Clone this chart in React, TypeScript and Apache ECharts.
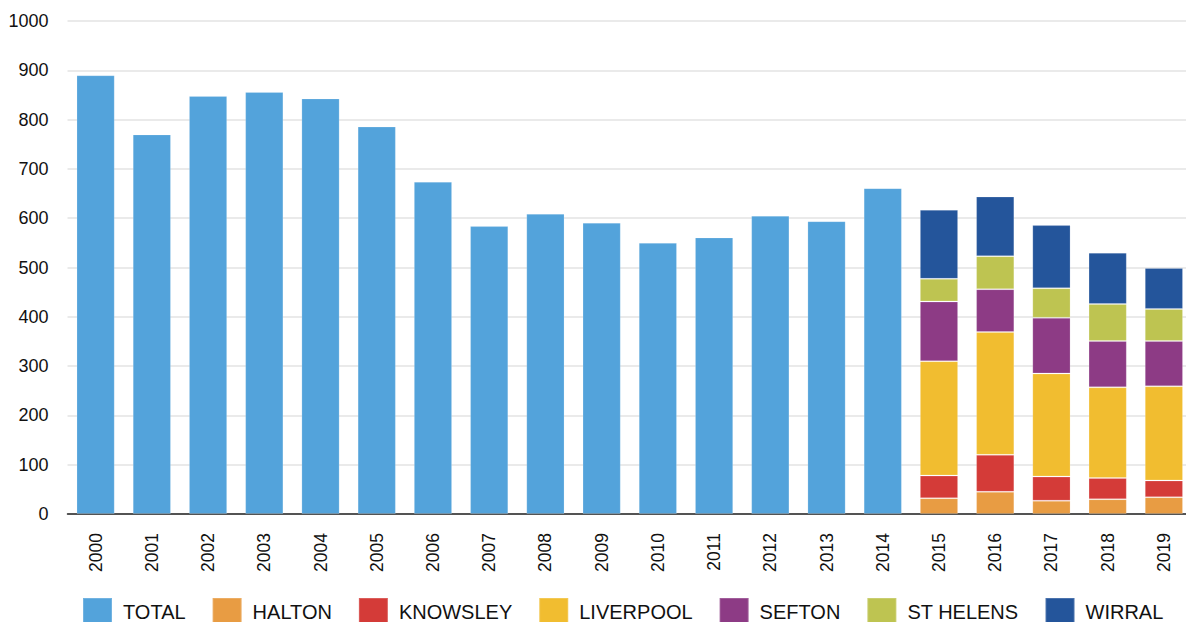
import React, { useEffect, useRef } from "react";
import * as echarts from "echarts";

const years = [
  "2000", "2001", "2002", "2003", "2004", "2005", "2006", "2007", "2008", "2009",
  "2010", "2011", "2012", "2013", "2014", "2015", "2016", "2017", "2018", "2019",
];

const total = [890, 770, 848, 856, 843, 786, 674, 584, 609, 591, 550, 561, 605, 594, 661, null, null, null, null, null];
const halton = [null, null, null, null, null, null, null, null, null, null, null, null, null, null, null, 32, 45, 27, 30, 34];
const knowsley = [null, null, null, null, null, null, null, null, null, null, null, null, null, null, null, 46, 75, 49, 43, 34];
const liverpool = [null, null, null, null, null, null, null, null, null, null, null, null, null, null, null, 232, 249, 209, 184, 191];
const sefton = [null, null, null, null, null, null, null, null, null, null, null, null, null, null, null, 121, 87, 113, 94, 92];
const stHelens = [null, null, null, null, null, null, null, null, null, null, null, null, null, null, null, 46, 67, 60, 75, 65];
const wirral = [null, null, null, null, null, null, null, null, null, null, null, null, null, null, null, 140, 121, 128, 104, 83];

const seriesNames = ["TOTAL", "HALTON", "KNOWSLEY", "LIVERPOOL", "SEFTON", "ST HELENS", "WIRRAL"];
const seriesData = [total, halton, knowsley, liverpool, sefton, stHelens, wirral];
const colors = ["#53a3db", "#e89c43", "#d43b38", "#f1bd30", "#8d3b85", "#bec451", "#24559b"];

const FONT = "'Liberation Sans', Arial, Helvetica, sans-serif";

export default function App() {
  const ref = useRef<HTMLDivElement>(null);

  useEffect(() => {
    if (!ref.current) return;
    const chart = echarts.init(ref.current, undefined, { renderer: "svg" });
    chart.setOption({
      animation: false,
      color: colors,
      textStyle: { fontFamily: FONT },
      grid: { left: 67.5, right: 0, top: 21, bottom: 108, containLabel: false },
      legend: {
        left: 82,
        top: 597,
        padding: 0,
        itemGap: 26,
        itemWidth: 29,
        itemHeight: 27,
        icon: "rect",
        data: seriesNames,
        textStyle: { fontSize: 20, color: "#111", fontFamily: FONT, padding: [0, 0, 0, 6] },
      },
      xAxis: {
        type: "category",
        data: years,
        axisTick: { show: false },
        axisLine: { show: true, lineStyle: { color: "#222", width: 1.5 } },
        axisLabel: { rotate: 90, margin: 19, fontSize: 17.5, color: "#111", fontFamily: FONT },
      },
      yAxis: {
        type: "value",
        min: 0,
        max: 1000,
        interval: 100,
        axisLine: { show: false },
        axisTick: { show: false },
        axisLabel: {
          margin: 19,
          fontSize: 18,
          color: "#111",
          fontFamily: FONT,
          formatter: (v: number) => String(v),
        },
        splitLine: { lineStyle: { color: "#e3e3e3", width: 1.5 } },
      },
      series: seriesNames.map((name, i) => ({
        name,
        type: "bar",
        stack: "all",
        barCategoryGap: "32%",
        data: seriesData[i],
        itemStyle: { color: colors[i], borderColor: "rgba(255,255,255,0.18)", borderWidth: 1 },
      })),
    });
    return () => chart.dispose();
  }, []);

  return (
    <div style={{ position: "fixed", left: 0, top: 0, width: 1186, height: 622, overflow: "hidden", background: "#fff" }}>
      <div ref={ref} style={{ position: "absolute", left: 0, top: 0, width: 1192, height: 622 }} />
    </div>
  );
}
